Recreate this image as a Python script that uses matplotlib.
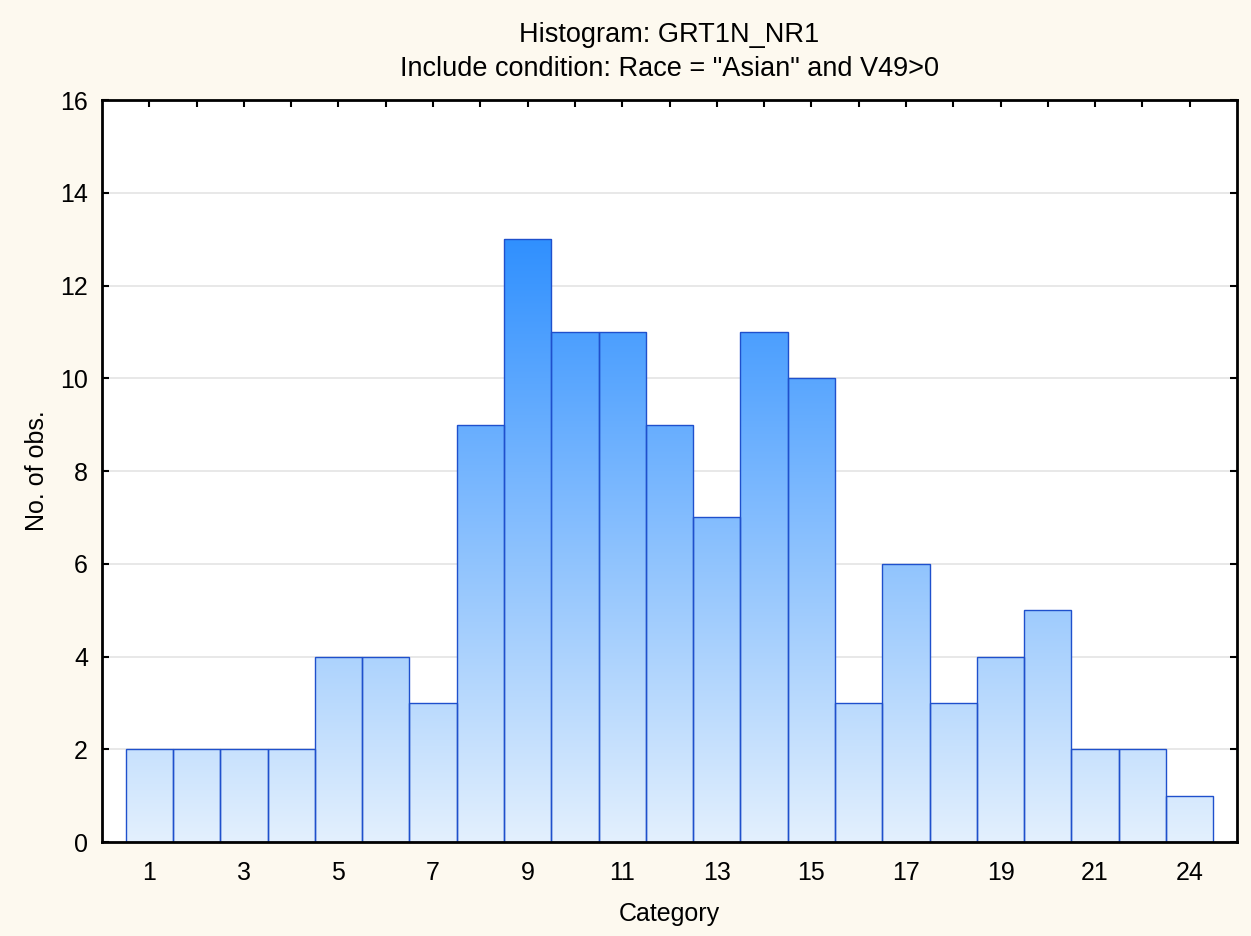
import numpy as np
import matplotlib.pyplot as plt
from matplotlib.colors import LinearSegmentedColormap
from matplotlib.patches import Rectangle

plt.rcParams['font.family'] = ['Liberation Sans', 'DejaVu Sans']

categories = ["1", "2", "3", "4", "5", "6", "7", "8", "9", "10", "11", "12",
              "13", "14", "15", "16", "17", "18", "19", "20", "21", "22", "24"]
counts = [2, 2, 2, 2, 4, 4, 3, 9, 13, 11, 11, 9, 7, 11, 10, 3, 6, 3, 4, 5, 2, 2, 1]
yticks = [0, 2, 4, 6, 8, 10, 12, 14, 16]

bg = "#fdf9ef"
edge = "#1f50cc"
cmap = LinearSegmentedColormap.from_list("bars", ["#e3f0fd", "#3090ff"])

fig = plt.figure(figsize=(12.51, 9.36), dpi=100, facecolor=bg)
ax = fig.add_axes([102 / 1251, 1 - 842 / 936, (1237 - 102) / 1251, (842 - 100) / 936])
ax.set_facecolor("white")

x = np.arange(len(counts))
ymax_grad = max(counts)
grad = np.linspace(0, 1, 256).reshape(-1, 1)
for xi, c in zip(x, counts):
    im = ax.imshow(grad, cmap=cmap, origin="lower", aspect="auto",
                   extent=(xi - 0.5, xi + 0.5, 0, ymax_grad), zorder=2,
                   interpolation="bilinear")
    rect = Rectangle((xi - 0.5, 0), 1, c, facecolor="none", edgecolor=edge,
                     linewidth=1.0, zorder=3)
    ax.add_patch(rect)
    im.set_clip_path(rect)

ax.set_xlim(-1, 23)
ax.set_ylim(0, 16)
ax.set_yticks(yticks)
ax.set_xticks(x)
ax.set_xticklabels([lab if i % 2 == 0 else "" for i, lab in enumerate(categories)])
ax.yaxis.grid(True, color="#e4e4e4", linewidth=1.2, zorder=0)
ax.set_axisbelow(True)

ax.tick_params(direction="in", top=True, right=True, length=5, width=1.5,
               labelsize=18, pad=14)
ax.tick_params(axis="y", pad=10)
for s in ax.spines.values():
    s.set_linewidth(2)
    s.set_zorder(5)

ax.set_xlabel("Category", fontsize=18, labelpad=12)
ax.set_ylabel("No. of obs.", fontsize=18, labelpad=8)
ax.set_title("Histogram: GRT1N_NR1\nInclude condition: Race = \"Asian\" and V49>0",
             fontsize=19.5, pad=17, linespacing=1.4)

fig.savefig("out.png", dpi=100, facecolor=bg)
